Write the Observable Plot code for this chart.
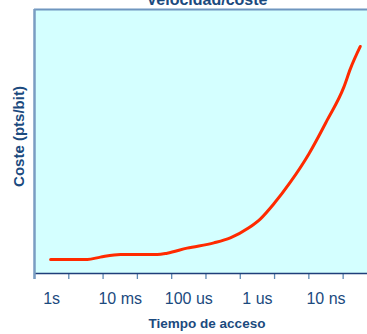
<!DOCTYPE html>
<html>
<head>
<meta charset="utf-8">
<script src="https://cdn.jsdelivr.net/npm/d3@7"></script>
<script src="https://cdn.jsdelivr.net/npm/@observablehq/plot@0.6"></script>
<style>
  html, body { margin: 0; padding: 0; background: #ffffff; }
  #chart { width: 367px; height: 334px; overflow: hidden; }
</style>
</head>
<body>
<div id="chart"></div>
<script>
// Axis (log-time band index) positions and labels
const tickPositions = [0, 1, 2, 3, 4, 5, 6, 7, 8, 9, 10];
const labelPositions = [0.5, 2.5, 4.5, 6.5, 8.5];
const tickLabels = ["1s", "10 ms", "100 us", "1 us", "10 ns"];

// Cost curve (x: access-time index, y: relative cost)
const curveX = [0.47, 1.54, 1.92, 2.51, 3.58, 3.87, 4.45, 5.23, 5.71, 6.25, 6.59, 6.98, 7.46, 8.00, 8.53, 9.02, 9.21, 9.50];
const curveY = [5.3, 5.3, 6.2, 7.2, 7.2, 7.7, 9.6, 11.6, 13.5, 17.3, 20.7, 26.4, 34.6, 45.3, 58.0, 70.6, 77.5, 86.0];

const title = "Velocidad/coste";
const xTitle = "Tiempo de acceso";
const yTitle = "Coste (pts/bit)";

const data = curveX.map((x, i) => ({x, y: curveY[i]}));
const textColor = "#1b4a7e";

const chart = Plot.plot({
  width: 367,
  height: 334,
  marginLeft: 34,
  marginRight: 0,
  marginTop: 9,
  marginBottom: 61,
  style: {background: "#ffffff", fontFamily: "'Liberation Sans', Arial, sans-serif", overflow: "visible"},
  x: {domain: [0, 9.71], axis: null},
  y: {domain: [0, 100], axis: null},
  marks: [
    Plot.frame({fill: "#d4ffff", stroke: null}),
    Plot.ruleY([100], {stroke: "#6f96bf", strokeWidth: 2}),
    Plot.axisX({ticks: tickPositions, tickSize: 6, tickFormat: () => "", stroke: "#5e88b3", strokeWidth: 1.3, label: null}),
    Plot.axisX({ticks: labelPositions, tickSize: 0, tickPadding: 19, tickFormat: (d) => tickLabels[labelPositions.indexOf(d)], fontSize: 16, fill: textColor, label: null}),
    Plot.ruleY([0], {stroke: "#1f3f7a", strokeWidth: 1.5}),
    Plot.ruleX([0], {y1: -2.3, y2: 100, stroke: "#7a9dc2", strokeWidth: 2.5}),
    Plot.line(data, {x: "x", y: "y", curve: "monotone-x", stroke: "#ff2a00", strokeWidth: 3}),
    Plot.text([title], {frameAnchor: "top", dx: 6, dy: -5, lineAnchor: "bottom", fontSize: 16, fontWeight: "bold", fill: textColor}),
    Plot.text([xTitle], {frameAnchor: "bottom", dx: 6, dy: 54, lineAnchor: "bottom", fontSize: 13.5, fontWeight: "bold", fill: textColor}),
    Plot.text([yTitle], {frameAnchor: "left", dx: -15, dy: -5, rotate: -90, textAnchor: "middle", fontSize: 15, fontWeight: "bold", fill: textColor})
  ]
});
document.getElementById("chart").appendChild(chart);
</script>
</body>
</html>
